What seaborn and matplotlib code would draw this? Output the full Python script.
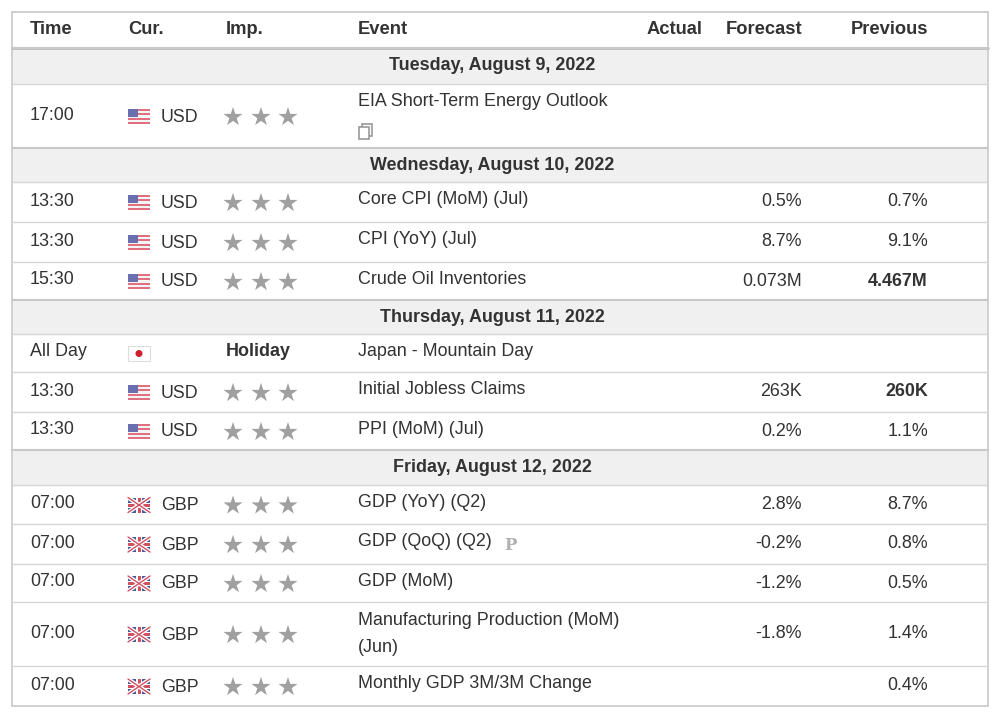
import matplotlib
matplotlib.use("Agg")
import matplotlib.pyplot as plt
import matplotlib.patches as mp
import seaborn as sns
import pandas as pd

sns.set_theme(style="white")
plt.rcParams['font.family'] = ['Liberation Sans', 'DejaVu Sans']

headers = ["Time", "Cur.", "Imp.", "Event", "Actual", "Forecast", "Previous"]
dates = ["Tuesday, August 9, 2022", "Wednesday, August 10, 2022",
         "Thursday, August 11, 2022", "Friday, August 12, 2022"]
times = ["17:00", "13:30", "13:30", "15:30", "All Day", "13:30", "13:30",
         "07:00", "07:00", "07:00", "07:00", "07:00"]
currencies = ["USD", "USD", "USD", "USD", "JPY", "USD", "USD",
              "GBP", "GBP", "GBP", "GBP", "GBP"]
events = ["EIA Short-Term Energy Outlook", "Core CPI (MoM) (Jul)", "CPI (YoY) (Jul)",
          "Crude Oil Inventories", "Japan - Mountain Day", "Initial Jobless Claims",
          "PPI (MoM) (Jul)", "GDP (YoY) (Q2)", "GDP (QoQ) (Q2)", "GDP (MoM)",
          "Manufacturing Production (MoM)\n(Jun)", "Monthly GDP 3M/3M Change"]
forecasts = ["", "0.5%", "8.7%", "0.073M", "", "263K", "0.2%",
             "2.8%", "-0.2%", "-1.2%", "-1.8%", ""]
previous = ["", "0.7%", "9.1%", "4.467M", "", "260K", "1.1%",
            "8.7%", "0.8%", "0.5%", "1.4%", "0.4%"]
bold_prev = [False, False, False, True, False, True, False, False, False, False, False, False]

date_rows = [(48, 84), (148, 182), (300, 334), (450, 485)]
event_rows = [(84, 148), (182, 222), (222, 262), (262, 300), (334, 372), (372, 412),
              (412, 450), (485, 524), (524, 564), (564, 602), (602, 666), (666, 706)]

fig = plt.figure(figsize=(10, 7.17), dpi=100)
ax = fig.add_axes([0, 0, 1, 1])

TXT = "#333333"
LINE = "#d6d6d6"
FS = 12.9
ax.add_patch(mp.Rectangle((12, 12), 976, 694, fill=False, ec="#c8c8c8", lw=1.2))
hx = [(30, "left"), (128, "left"), (226, "left"), (358, "left"), (702, "right"), (802, "right"), (928, "right")]
for (x, ha), h in zip(hx, headers):
    ax.text(x, 30, h, ha=ha, va="center", fontsize=13.2, color=TXT, fontweight="semibold")
ax.plot([12, 988], [48, 48], color="#bdbdbd", lw=2)

for (t, b), d in zip(date_rows, dates):
    ax.add_patch(mp.Rectangle((13, t), 974, b - t, color="#f0f0f0", lw=0))
    ax.plot([12, 988], [t, t], color="#c8c8c8", lw=1.5)
    ax.plot([12, 988], [b, b], color=LINE, lw=1)
    ax.text(492, (t + b) / 2, d, ha="center", va="center", fontsize=FS,
            fontweight="bold", color=TXT)

def us_flag(x, y):
    w, h = 22, 15
    for i in range(7):
        ax.add_patch(mp.Rectangle((x, y + i * h / 7), w, h / 7,
                                  color="#e07080" if i % 2 == 0 else "#f4f4f4", lw=0))
    ax.add_patch(mp.Rectangle((x, y), 10, 8, color="#6a6fb0", lw=0))

def uk_flag(x, y):
    w, h = 22, 15
    ax.add_patch(mp.Rectangle((x, y), w, h, color="#4a5a9a", lw=0))
    ax.plot([x, x + w], [y, y + h], color="white", lw=3)
    ax.plot([x, x + w], [y + h, y], color="white", lw=3)
    ax.plot([x, x + w], [y, y + h], color="#d05060", lw=1)
    ax.plot([x, x + w], [y + h, y], color="#d05060", lw=1)
    ax.add_patch(mp.Rectangle((x, y + 5), w, 5, color="white", lw=0))
    ax.add_patch(mp.Rectangle((x + 8, y), 6, h, color="white", lw=0))
    ax.add_patch(mp.Rectangle((x, y + 6), w, 3, color="#d05060", lw=0))
    ax.add_patch(mp.Rectangle((x + 9.5, y), 3, h, color="#d05060", lw=0))

def jp_flag(x, y):
    ax.add_patch(mp.Rectangle((x, y), 22, 15, fc="white", ec="#dddddd", lw=0.8))
    ax.add_patch(mp.Circle((x + 11, y + 7.5), 3.5, color="#d02030", lw=0))

date_tops = [d[0] for d in date_rows]
star_x, star_y = [], []
for i, (t, b) in enumerate(event_rows):
    c = (t + b) / 2
    if i < len(event_rows) - 1 and b not in date_tops:
        ax.plot([12, 988], [b, b], color=LINE, lw=1)
    ax.text(30, c - 1, times[i], ha="left", va="center", fontsize=FS, color=TXT)
    cur = currencies[i]
    if cur == "USD":
        us_flag(128, c - 7)
    elif cur == "GBP":
        uk_flag(128, c - 7)
    else:
        jp_flag(128, c - 7)
    if cur != "JPY":
        ax.text(161, c + 1, cur, ha="left", va="center", fontsize=12.8, color=TXT)
        for sx in (233, 261, 288):
            star_x.append(sx); star_y.append(c + 1)
    else:
        ax.text(226, c - 1, "Holiday", ha="left", va="center", fontsize=FS,
                fontweight="bold", color=TXT)
    if i == 0:
        ey = t + 17
    elif i == 10:
        ey = c
    else:
        ey = c - 2
    ax.text(358, ey, events[i], ha="left", va="center", fontsize=FS, color=TXT,
            linespacing=1.75)
    ax.text(802, c, forecasts[i], ha="right", va="center", fontsize=FS, color=TXT)
    ax.text(928, c, previous[i], ha="right", va="center", fontsize=FS, color=TXT,
            fontweight="bold" if bold_prev[i] else "normal")

ax.add_patch(mp.Rectangle((362, 124), 10, 12, fc="white", ec="#999999", lw=1.2))
ax.add_patch(mp.Rectangle((359, 127), 10, 12, fc="white", ec="#999999", lw=1.2))
ax.text(504, 545, "P", ha="left", va="center", fontsize=12, fontweight="bold",
        color="#b0b0b0", family="DejaVu Serif")

stars = pd.DataFrame({"x": star_x, "y": star_y})
sns.scatterplot(data=stars, x="x", y="y", marker="*", s=210, color="#a0a0a0",
                edgecolor="none", ax=ax, legend=False)
ax.set_xlim(0, 1000)
ax.set_ylim(717, 0)
ax.axis("off")

fig.savefig("out.png", dpi=100, facecolor="white")
